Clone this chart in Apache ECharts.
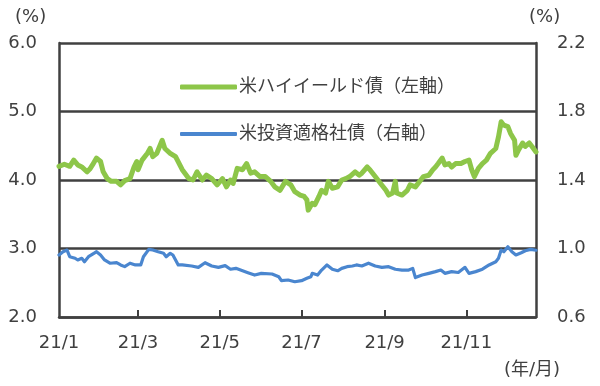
<!DOCTYPE html>
<html>
<head>
<meta charset="utf-8">
<script src="https://cdn.jsdelivr.net/npm/echarts@6/dist/echarts.min.js"></script>
<style>html,body{margin:0;padding:0;background:#fff}#c{width:600px;height:386px}</style>
</head>
<body>
<div id="c"></div>
<script>
// x values: days since 2021-01-01
var hyDays = [0,4,8,11,14,17,21,23,25,28,
  31,33,36,39,43,46,49,53,56,58,
  59,62,66,68,70,73,77,79,83,87,
  92,97,100,103,107,110,114,118,122,125,
  128,130,133,137,140,143,146,150,154,158,
  161,165,169,173,176,180,183,185,186,189,
  191,194,196,199,201,204,208,211,214,217,
  221,224,226,230,232,236,240,244,246,249,
  251,252,256,260,262,266,270,272,276,279,
  281,283,286,288,291,293,296,300,303,306,
  308,310,313,316,319,322,326,328,330,332,
  335,337,340,341,343,346,348,351,353,356];
var hyValues = [4.20,4.23,4.20,4.29,4.22,4.19,4.12,4.16,4.22,4.32,
  4.27,4.12,4.02,3.98,3.98,3.93,3.99,4.02,4.19,4.27,
  4.15,4.29,4.39,4.46,4.34,4.39,4.58,4.46,4.39,4.34,
  4.15,4.02,4.00,4.12,4.00,4.07,4.02,3.93,4.02,3.90,
  4.00,3.95,4.17,4.15,4.24,4.10,4.12,4.05,4.05,3.98,
  3.90,3.85,3.98,3.93,3.83,3.78,3.76,3.71,3.56,3.66,
  3.64,3.76,3.85,3.81,3.98,3.88,3.90,4.00,4.02,4.05,
  4.12,4.07,4.10,4.19,4.15,4.05,3.95,3.85,3.78,3.81,
  3.98,3.81,3.78,3.85,3.93,3.90,4.00,4.05,4.07,4.15,
  4.19,4.24,4.32,4.22,4.24,4.19,4.24,4.24,4.27,4.29,
  4.15,4.05,4.17,4.24,4.29,4.39,4.46,4.63,4.85,4.80,
  4.78,4.68,4.58,4.36,4.44,4.54,4.49,4.54,4.49,4.41];
var igDays = [0,3,6,8,12,14,17,19,22,26,
  28,31,34,38,43,46,49,53,57,61,
  63,67,70,74,78,80,83,85,89,92,
  99,104,109,114,119,124,128,132,137,141,
  146,151,159,164,166,171,176,181,185,188,
  189,193,196,200,204,208,211,215,219,222,
  226,231,236,241,246,251,256,261,264,266,
  271,276,281,285,288,293,298,303,306,311,
  316,321,326,328,330,332,335,338,341,345,
  348,352,356];
var igValues = [0.962,0.981,0.991,0.952,0.943,0.933,0.943,0.923,0.952,0.972,
  0.981,0.962,0.933,0.914,0.917,0.904,0.894,0.914,0.904,0.904,
  0.952,0.995,0.991,0.981,0.972,0.952,0.972,0.962,0.904,0.904,
  0.898,0.890,0.917,0.898,0.890,0.900,0.879,0.884,0.870,0.859,
  0.845,0.855,0.851,0.835,0.812,0.816,0.806,0.812,0.826,0.835,
  0.855,0.845,0.874,0.904,0.879,0.870,0.884,0.894,0.898,0.904,
  0.898,0.914,0.898,0.890,0.894,0.879,0.874,0.874,0.884,0.830,
  0.845,0.855,0.865,0.874,0.855,0.865,0.860,0.890,0.855,0.865,
  0.879,0.904,0.923,0.943,0.991,0.981,1.010,0.981,0.962,0.975,
  0.987,0.995,0.990];
var monthTickDays = [0,59,120,181,243,304];
var monthTickLabels = ['21/1','21/3','21/5','21/7','21/9','21/11'];
var rightTicks = [0.6,1.0,1.4,1.8,2.2];
var seriesNames = ['米ハイイールド債（左軸）','米投資適格社債（右軸）'];

function zip(a,b){var r=[];for(var i=0;i<a.length;i++)r.push([a[i],b[i]]);return r;}
var FONT = "'DejaVu Sans','Noto Sans CJK JP',sans-serif";
var TXT = '#404040';
var chart = echarts.init(document.getElementById('c'));
chart.setOption({
  animation:false,
  textStyle:{fontFamily:FONT,color:TXT},
  title:[
    {text:'(%)',left:10,top:3,textStyle:{fontSize:18,fontWeight:'normal',color:TXT,fontFamily:FONT}},
    {text:'(%)',left:524,top:3,textStyle:{fontSize:18,fontWeight:'normal',color:TXT,fontFamily:FONT}},
    {text:'(年/月)',left:499,top:356,textStyle:{fontSize:18,fontWeight:'normal',color:TXT,fontFamily:FONT}}
  ],
  legend:[
    {data:[seriesNames[0]],left:175,top:73,icon:'roundRect',itemWidth:57,itemHeight:5,itemGap:4,
     textStyle:{fontSize:18,color:TXT,fontFamily:FONT,padding:[0,0,0,-3]}},
    {data:[seriesNames[1]],left:175,top:120,icon:'roundRect',itemWidth:57,itemHeight:4,itemGap:4,
     textStyle:{fontSize:18,color:TXT,fontFamily:FONT,padding:[0,0,0,-3]}}
  ],
  grid:{left:59,right:64,top:43,bottom:69,containLabel:false},
  xAxis:{type:'value',min:0,max:356,
    axisLine:{show:true,onZero:false,lineStyle:{color:TXT,width:2.5}},
    axisTick:{show:true,inside:true,length:7,customValues:monthTickDays.slice(1),lineStyle:{color:TXT,width:2}},
    axisLabel:{customValues:monthTickDays,fontSize:18,color:TXT,fontFamily:FONT,margin:17,
      formatter:function(v){var i=monthTickDays.indexOf(v);return i>=0?monthTickLabels[i]:'';}},
    splitLine:{show:false}},
  yAxis:[
    {type:'value',min:2,max:6,interval:1,
     axisLine:{show:true,lineStyle:{color:TXT,width:2.5}},
     axisTick:{show:false},
     axisLabel:{fontSize:18,color:TXT,fontFamily:FONT,margin:22,formatter:function(v){return v.toFixed(1);}},
     splitLine:{show:true,lineStyle:{color:TXT,width:2.5}}},
    {type:'value',min:0.6,max:2.2,
     axisLine:{show:true,lineStyle:{color:TXT,width:2.5}},
     axisTick:{show:false},
     axisLabel:{customValues:rightTicks,fontSize:18,color:TXT,fontFamily:FONT,margin:21,formatter:function(v){return v.toFixed(1);}},
     splitLine:{show:false}}
  ],
  series:[
    {name:seriesNames[0],type:'line',yAxisIndex:0,symbol:'none',data:zip(hyDays,hyValues),
     itemStyle:{color:'#8dc649'},lineStyle:{color:'#8dc649',width:5,cap:'round',join:'round'},z:3},
    {name:seriesNames[1],type:'line',yAxisIndex:1,symbol:'none',data:zip(igDays,igValues),
     itemStyle:{color:'#4a86cf'},lineStyle:{color:'#4a86cf',width:3.2,cap:'round',join:'round'},z:3}
  ]
});
</script>
</body>
</html>
